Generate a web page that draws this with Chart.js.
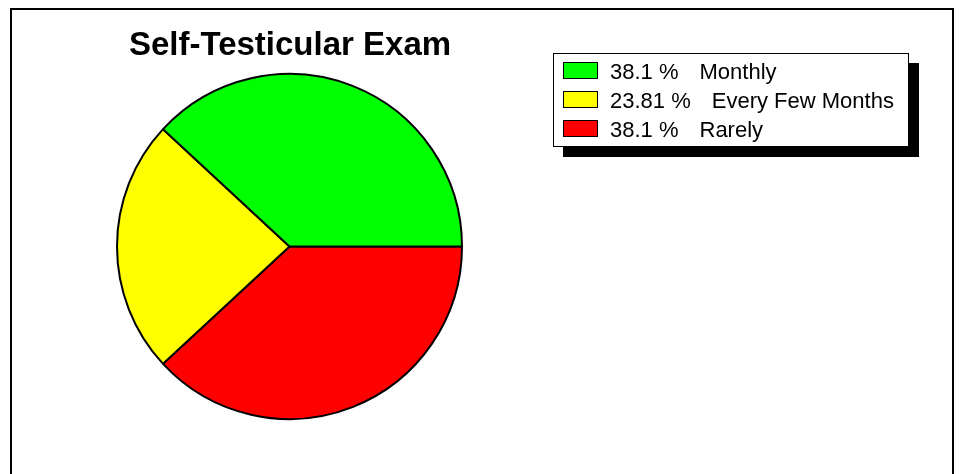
<!DOCTYPE html>
<html>
<head>
<meta charset="utf-8">
<title>Self-Testicular Exam</title>
<script src="https://cdn.jsdelivr.net/npm/chart.js@4.4.1/dist/chart.umd.min.js"></script>
<style>
  html, body { margin: 0; padding: 0; background: #fff; overflow: hidden; }
  body { width: 960px; height: 474px; position: relative; font-family: Arial, "Liberation Sans", sans-serif; }
  #frame { position: absolute; left: 10px; top: 8px; width: 944px; height: 520px; border: 2px solid #000; box-sizing: border-box; }
  #myChart { position: absolute; left: 0; top: 0; }
  #title { position: absolute; left: 90px; width: 400px; top: 27px; text-align: center; font-size: 33px; font-weight: bold; line-height: 1; color: #000; }
  #legend { position: absolute; left: 553px; top: 53px; width: 356px; height: 94px; border: 1px solid #000; background: #fff; box-sizing: border-box; box-shadow: 10px 10px 0 #000; }
  .row { position: absolute; left: 56px; font-size: 22px; line-height: 1; white-space: pre; color: #000; }
  .row .name { margin-left: 21px; }
  .swatch { position: absolute; left: 9px; width: 35px; height: 17px; border: 1px solid #000; box-sizing: border-box; }
</style>
</head>
<body>
<div id="frame"></div>
<canvas id="myChart" width="960" height="474"></canvas>
<div id="title">Self-Testicular Exam</div>
<div id="legend"></div>

<script>
'use strict';

//Chart data (legend order)
let categories = ['Monthly', 'Every Few Months', 'Rarely'];
let percents = [38.1, 23.81, 38.1];
let sliceColors = ['#00ff00', '#ffff00', '#ff0000'];

//Legend box built from the same arrays
let legendBox = document.querySelector('#legend');
for (let i = 0; i < categories.length; i++){
  let swatch = document.createElement('div');
  swatch.className = 'swatch';
  swatch.style.top = (8 + i * 29) + 'px';
  swatch.style.background = sliceColors[i];
  legendBox.appendChild(swatch);

  let row = document.createElement('div');
  row.className = 'row';
  row.style.top = (7 + i * 29) + 'px';
  let pct = document.createElement('span');
  pct.textContent = percents[i] + ' %';
  let name = document.createElement('span');
  name.className = 'name';
  name.textContent = categories[i];
  row.appendChild(pct);
  row.appendChild(name);
  legendBox.appendChild(row);
}

//The original pie runs counter-clockwise from 3 o'clock,
//so feed Chart.js the slices reversed and start it at 90 degrees
let ctx = document.getElementById('myChart').getContext('2d');
new Chart(ctx, {
  type: 'pie',
  data: {
    labels: categories.slice().reverse(),
    datasets: [{
      data: percents.slice().reverse(),
      backgroundColor: sliceColors.slice().reverse(),
      borderColor: '#000',
      borderWidth: 2
    }]
  },
  options: {
    responsive: false,
    animation: false,
    rotation: 90,
    layout: {
      padding: { left: 116, top: 73, right: 497, bottom: 54 }
    },
    plugins: {
      legend: { display: false },
      title: { display: false },
      tooltip: { enabled: true }
    }
  }
});
</script>
</body>
</html>
